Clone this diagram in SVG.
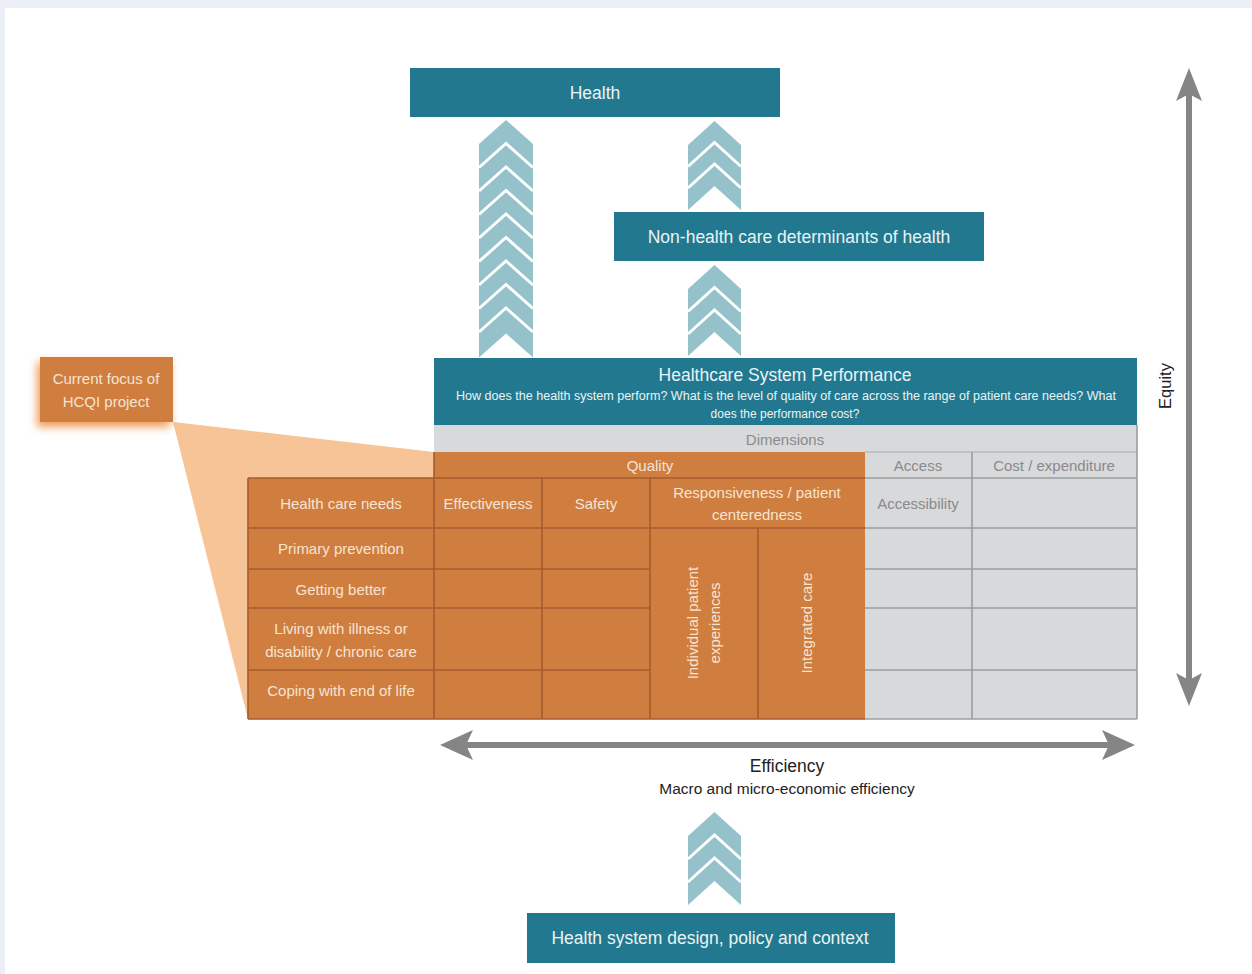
<svg xmlns="http://www.w3.org/2000/svg" width="1252" height="974" viewBox="0 0 1252 974">
<defs>
<style>
text{font-family:"Liberation Sans",Arial,sans-serif;}
.teal{fill:#22798F;}
.tt{fill:#EAF3F5;font-size:17.5px;text-anchor:middle;}
.chev{fill:#95C1CB;}
.sep{fill:none;stroke:#FFFFFF;stroke-width:3;}
.or{fill:#CF7E40;}
.gr{fill:#D8D9DB;}
.ol{stroke:#A55C2C;stroke-width:1.6;fill:none;}
.gl{stroke:#9C9C9E;stroke-width:1.6;fill:none;}
.ot{fill:#F6E4D2;font-size:15px;text-anchor:middle;}
.gt{fill:#8A8A8C;font-size:15px;text-anchor:middle;}
.ax{stroke:#858585;stroke-width:6;fill:none;}
.ah{fill:#858585;}
.dk{fill:#222222;text-anchor:middle;}
</style>
<filter id="glow" x="-30%" y="-30%" width="160%" height="170%">
<feDropShadow dx="-3" dy="5" stdDeviation="4" flood-color="#EE8A3C" flood-opacity="0.85"/>
</filter>
</defs>
<rect x="0" y="0" width="1252" height="974" fill="#ECEEF8"/>
<rect x="5" y="8" width="1247" height="966" fill="#FFFFFF"/>

<!-- focus wedge -->
<polygon id="focus-wedge" points="173,422 434,452 434,719 248,719" fill="#F7C497"/>

<g id="connectors">
  <!-- chevron column left (table -> health) -->
  <g id="chev1">
    <polygon class="chev" points="506,120 533,144 533,357.5 506,333.5 479,357.5 479,144"/>
    <polyline class="sep" points="479,167.5 506,143.5 533,167.5"/>
    <polyline class="sep" points="479,191 506,167 533,191"/>
    <polyline class="sep" points="479,214.5 506,190.5 533,214.5"/>
    <polyline class="sep" points="479,238 506,214 533,238"/>
    <polyline class="sep" points="479,261.5 506,237.5 533,261.5"/>
    <polyline class="sep" points="479,285 506,261 533,285"/>
    <polyline class="sep" points="479,308.5 506,284.5 533,308.5"/>
    <polyline class="sep" points="479,332 506,308 533,332"/>
  </g>
  <!-- chevron non-health -> health -->
  <g id="chev2">
    <polygon class="chev" points="714.5,121 741,145 741,210 714.5,186 688,210 688,145"/>
    <polyline class="sep" points="688,166.5 714.5,142.5 741,166.5"/>
    <polyline class="sep" points="688,188 714.5,164 741,188"/>
  </g>
  <!-- chevron table -> non-health -->
  <g id="chev3">
    <polygon class="chev" points="714.5,265 741,289 741,356 714.5,332 688,356 688,289"/>
    <polyline class="sep" points="688,311.5 714.5,287.5 741,311.5"/>
    <polyline class="sep" points="688,334 714.5,310 741,334"/>
  </g>
  <!-- chevron design -> table -->
  <g id="chev4">
    <polygon class="chev" points="714.5,812 741,836 741,905 714.5,881 688,905 688,836"/>
    <polyline class="sep" points="688,859 714.5,835 741,859"/>
    <polyline class="sep" points="688,882 714.5,858 741,882"/>
  </g>
  <!-- efficiency arrow -->
  <g id="efficiency-arrow">
    <line class="ax" x1="462" y1="745" x2="1112" y2="745"/>
    <polygon class="ah" points="440,745 473,730 466,745 473,760"/>
    <polygon class="ah" points="1135,745 1102,730 1109,745 1102,760"/>
  </g>
  <!-- equity arrow -->
  <g id="equity-arrow">
    <line class="ax" x1="1189" y1="90" x2="1189" y2="684"/>
    <polygon class="ah" points="1189,68 1176,101 1189,94 1202,101"/>
    <polygon class="ah" points="1189,706 1176,673 1189,680 1202,673"/>
  </g>
</g>

<g id="node-health">
  <rect class="teal" x="410" y="68" width="370" height="49"/>
  <text class="tt" x="595" y="99">Health</text>
</g>

<g id="node-nonhealth">
  <rect class="teal" x="614" y="212" width="370" height="49"/>
  <text class="tt" x="799" y="243">Non-health care determinants of health</text>
</g>

<g id="node-design">
  <rect class="teal" x="527" y="913" width="368" height="50"/>
  <text class="tt" x="710" y="944">Health system design, policy and context</text>
</g>

<g id="node-focus">
  <rect x="40" y="357" width="133" height="65" fill="#CF7E40" filter="url(#glow)"/>
  <text class="ot" x="106" y="384">Current focus of</text>
  <text class="ot" x="106" y="407">HCQI project</text>
</g>

<g id="node-performance">
  <rect class="teal" x="434" y="358" width="703" height="67"/>
  <text class="tt" x="785" y="381">Healthcare System Performance</text>
  <text x="786" y="400" fill="#EAF3F5" font-size="12" text-anchor="middle" textLength="660" lengthAdjust="spacingAndGlyphs">How does the health system perform? What is the level of quality of care across the range of patient care needs? What</text>
  <text x="785" y="418" fill="#EAF3F5" font-size="12" text-anchor="middle">does the performance cost?</text>
</g>

<g id="node-table">
  <rect class="gr" x="434" y="425" width="703" height="27"/>
  <text class="gt" x="785" y="445">Dimensions</text>
  <rect class="or" x="434" y="452" width="431" height="26"/>
  <rect class="or" x="248" y="478" width="617" height="241"/>
  <rect class="gr" x="865" y="452" width="272" height="267"/>
  <!-- orange lines -->
  <line class="ol" x1="248" y1="478" x2="865" y2="478"/>
  <line class="ol" x1="248" y1="528" x2="865" y2="528"/>
  <line class="ol" x1="248" y1="569" x2="650" y2="569"/>
  <line class="ol" x1="248" y1="608" x2="650" y2="608"/>
  <line class="ol" x1="248" y1="670" x2="650" y2="670"/>
  <line class="ol" x1="434" y1="452" x2="434" y2="719"/>
  <line class="ol" x1="542" y1="478" x2="542" y2="719"/>
  <line class="ol" x1="650" y1="478" x2="650" y2="719"/>
  <line class="ol" x1="758" y1="528" x2="758" y2="719"/>
  <line class="ol" x1="248" y1="478" x2="248" y2="719"/>
  <line class="ol" x1="248" y1="719" x2="865" y2="719"/>
  <!-- gray lines -->
  <line class="gl" x1="865" y1="452" x2="1137" y2="452" stroke-opacity="0.5"/>
  <line class="gl" x1="865" y1="478" x2="1137" y2="478"/>
  <line class="gl" x1="865" y1="528" x2="1137" y2="528"/>
  <line class="gl" x1="865" y1="569" x2="1137" y2="569"/>
  <line class="gl" x1="865" y1="608" x2="1137" y2="608"/>
  <line class="gl" x1="865" y1="670" x2="1137" y2="670"/>
  <line class="gl" x1="972" y1="452" x2="972" y2="719"/>
  <line class="gl" x1="1137" y1="425" x2="1137" y2="719"/>
  <line class="gl" x1="865" y1="719" x2="1137" y2="719"/>
  <!-- texts -->
  <text class="ot" x="650" y="471">Quality</text>
  <text class="gt" x="918" y="471">Access</text>
  <text class="gt" x="1054" y="471">Cost / expenditure</text>
  <text class="ot" x="341" y="509">Health care needs</text>
  <text class="ot" x="488" y="509">Effectiveness</text>
  <text class="ot" x="596" y="509">Safety</text>
  <text class="ot" x="757" y="498">Responsiveness / patient</text>
  <text class="ot" x="757" y="520">centeredness</text>
  <text class="gt" x="918" y="509">Accessibility</text>
  <text class="ot" x="341" y="554">Primary prevention</text>
  <text class="ot" x="341" y="595">Getting better</text>
  <text class="ot" x="341" y="634">Living with illness or</text>
  <text class="ot" x="341" y="657">disability / chronic care</text>
  <text class="ot" x="341" y="696">Coping with end of life</text>
  <text class="ot" transform="translate(698,623) rotate(-90)" x="0" y="0">Individual patient</text>
  <text class="ot" transform="translate(720,623) rotate(-90)" x="0" y="0">experiences</text>
  <text class="ot" transform="translate(812,623) rotate(-90)" x="0" y="0">Integrated care</text>
</g>

<g id="labels">
  <text class="dk" x="787" y="772" font-size="17.5">Efficiency</text>
  <text class="dk" x="787" y="794" font-size="15.5">Macro and micro-economic efficiency</text>
  <text class="dk" transform="translate(1171,386) rotate(-90)" x="0" y="0" font-size="16.5">Equity</text>
</g>
</svg>
